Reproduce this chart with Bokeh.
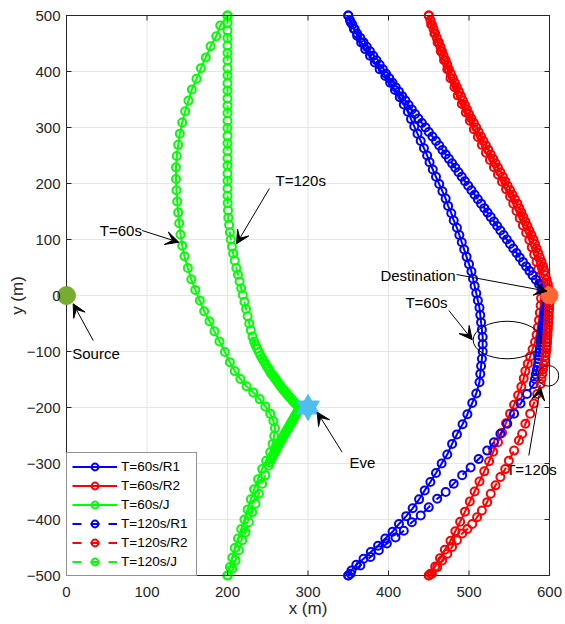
from bokeh.plotting import figure
from bokeh.models import (Range1d, FixedTicker, Legend, LegendItem,
                          Label, Arrow, VeeHead, ColumnDataSource)
from bokeh.embed import file_html
from bokeh.resources import INLINE

# ---------------- data ----------------
X_TICKS = [0, 100, 200, 300, 400, 500, 600]
Y_TICKS = [-500, -400, -300, -200, -100, 0, 100, 200, 300, 400, 500]

R1_60 = [(350,500),(353,488),(357,476),(361,464),(366,452),(371,440),(377,428),(383,416),(389,404),
         (396,392),(402,380),(408,367),(414,354),(419,341),(424,328),(428,315),(432,302),(436,289),
         (440,276),(444,263),(448,250),(451,238),(455,225),(459,212),(463,199),(467,186),(471,173),
         (474,160),(478,147),(481,134),(485,121),(488,108),(491,95),(494,82),(497,69),(500,56),
         (503,43),(505,30),(507,17),(509,4),(511,-9),(513,-22),(514,-35),(515,-48),(516,-61),
         (517,-74),(517,-87),(517,-100),(516,-113),(515,-126),(514,-140),(513,-155),(509,-175),
         (504,-192),(498,-212),(492,-230),(485,-248),(479,-265),(473,-284),(466,-300),(459,-317),
         (452,-333),(445,-348),(438,-364),(430,-380),(422,-394),(413,-408),(405,-422),(396,-434),
         (387,-447),(378,-458),(369,-470),(360,-481),(354,-491),(350,-500)]

R2_60 = [(450,500),(453,484),(457,468),(461,452),(465,436),(469,420),(473,404),(477,388),(482,372),
         (486,357),(491,342),(496,327),(501,312),(506,297),(511,283),(516,269),(521,255),(526,242),
         (531,229),(536,216),(541,203),(546,190),(551,177),(555,164),(559,151),(563,138),(567,125),
         (571,112),(575,99),(578,86),(581,73),(584,60),(586,47),(588,34),(589.5,21),(590,8),
         (589.5,-5),(589,-18),(588,-31),(587,-44),(585.5,-57),(584,-70),(582,-83),(579,-96),
         (576,-109),(573,-122),(570,-135),(568,-148),(565,-163),(561,-178),(556,-195),(551,-211),
         (546,-228),(541,-245),(536,-262),(530,-279),(525,-296),(519,-314),(513,-332),(507,-350),
         (501,-368),(495,-386),(489,-404),(483,-421),(477,-438),(470,-454),(464,-469),(458,-484),
         (452,-497),(450,-500)]

J_60 = [(200,500),(191,482),(186,463),(179,445),(173,425),(167,406),(161.5,387),(155.7,368),
        (151.5,348),(147.4,329),(143.7,309),(140.8,289),(138.7,269),(137,249),(136,229),(136,208),
        (136.6,188),(137.5,168),(138.7,148),(140,129),(141.6,109),(143.7,89),(146.6,70),(150.7,49),
        (155,29),(160,10),(165.6,-9),(171,-28),(177.6,-46),(183.8,-64),(190,-82),(196.7,-101),
        (202.9,-119),(209,-135),(216,-149),(223.6,-162),(232,-173),(240,-185),(247,-198),(253,-211),
        (257,-224),(259,-237),(258,-251),(256,-265),(253,-280),(248,-295),(243,-310),(238,-328),
        (233,-346),(229,-364),(225,-382),(221,-400),(217,-417),(213,-434),(209,-451),(206,-468),
        (203,-485),(200,-500)]

R1_120 = [(350,500),(352,492),(355,484),(358,476),(361,468),(365,460),(369,452),(373,444),(377,436),
          (381,428),(385,420),(389,412),(393,404),(397,396),(401,388),(405,380),(409,372),(413,364),
          (417,356),(421,348),(425,340),(429,332),(433,324),(437,316),(441.5,308),(446,300),(450,292),
          (454.5,284),(459,276),(463,268),(467,260),(471,252),(475,244),(479,236),(483,228),(487,220),
          (491,212),(495,204),(499,196),(503,188),(507,180),(511,172),(515,164),(519,156),(523,148),
          (527,140),(531,132),(535,124),(539,116),(543,108),(547,100),(551,92),(555,84),(559,76),
          (563,68),(567,60),(571,52),(575,44),(579,36),(583,28),(587,20),(591,12),(594,6),(596,2),
          (597,-3),(596.5,-8),(596,-13),(595.5,-18),(595,-23),(594.5,-28),(594,-33),(593.5,-38),
          (593,-43),(592.5,-48),(592,-53),(591.5,-58),(591,-63),(590.5,-68),(590,-73),(589.5,-78),
          (589,-84),(588.5,-90),(588,-96),(587.5,-102),(587,-108),(586.5,-114),(586,-120),(585,-127),
          (584,-134),(583,-141),(582,-149),(580.5,-158),(572,-176),(564,-193),(556,-211),(547.5,-229),
          (539,-247),(531,-262),(522.6,-277),(512,-292),(502,-307),(491.5,-321),(481,-336),(471,-351),
          (460.5,-363),(450,-378),(440,-393),(429,-405),(419,-420),(408.7,-432),(398,-443),(388,-455),
          (377.6,-467),(365,-482),(353,-497),(350,-500)]

R2_120 = [(450,500),(452,492),(454,484),(456,476),(458,468),(460,460),(462.5,452),(464.5,444),
          (466.5,436),(468.5,428),(471,420),(473,412),(475,404),(477.5,396),(480,388),(482.5,380),
          (485,372),(487.5,364),(490,356),(492.5,348),(495,340),(497.5,332),(500,324),(503,316),
          (506,308),(509,300),(512,292),(515,284),(518,276),(521,268),(524,260),(527,252),(530,244),
          (533,236),(536,228),(539,220),(542,212),(545,204),(548,196),(551,188),(554,180),(557,172),
          (560,164),(562.5,156),(565,148),(567.5,140),(570,132),(572.5,124),(575,116),(577.5,108),
          (580,100),(582,92),(584,84),(586,76),(588,68),(590,60),(592,52),(593.5,44),(595,36),
          (596.5,28),(598,20),(599,12),(599.5,6),(600,0),(600,-6),(600,-12),(599.5,-18),(599.5,-24),
          (599,-30),(599,-36),(598.5,-42),(598.5,-48),(598,-54),(598,-60),(597.5,-66),(597.5,-72),
          (597,-78),(597,-84),(596.5,-90),(596,-96),(595.5,-102),(595,-108),(594,-116),(593,-124),
          (592,-132),(591,-140),(590,-149),(589,-158),(584.7,-176),(580.5,-193),(576,-211),(570,-229),
          (566,-247),(562,-259),(556,-277),(549.5,-295),(545,-310),(539,-324),(533,-339),(527,-354),
          (522.6,-369),(516,-384),(510,-396),(504,-408),(498,-417),(491.5,-425),(485,-437),(479,-449),
          (473,-461),(466.7,-473),(460.5,-485),(454,-497),(450,-500)]

J_120 = [(200,500),(200,487),(200,473),(200,460),(200,446),(200,433),(200,420),(200,406),(200,393),
         (200,379),(200,366),(200,352),(200,339),(200,326),(200,312),(200,299),(200,285),(200,272),
         (200,258),(200,245),(200,232),(200,218),(200,205),(200,191),(200,178),(200.2,165),
         (200.6,152),(201,139),(202,126),(203,113),(204,100),(205.5,87),(207,75),(209,62),(211,49),
         (213,37),(215,25),(217,13),(219,1),(221,-11),(223,-24),(225,-37),(227,-50),(229,-62),
         (231,-73),(233,-82),(235,-89),(237,-95),(239,-101),(241,-107),(243,-112),(245,-117),
         (247,-122),(249,-127),(251,-131),(252.5,-135),(254,-139),(256,-142),(257.5,-145),(259,-148),
         (260.5,-151),(262,-154),(263.5,-157),(265,-160),(266.5,-163),(268,-166),(269.5,-168.5),
         (271,-171),(272.5,-173.5),(274,-176),(275.5,-178.5),(277,-181),(278.5,-183.5),(280,-186),
         (281.5,-188.5),(283,-191),(284.5,-193),(286,-195),(287.5,-197),(289,-199),(290,-200),
         (289,-202.5),(288,-205),(287,-207.5),(286,-210),(285,-212.5),(284,-215),(283,-217.5),
         (282,-220),(281,-222.5),(280,-225),(279,-227.5),(278,-230),(277,-232.5),(276,-235),
         (275,-237.5),(274,-240),(273,-242.5),(272,-245),(271,-247.5),(270,-250),(269,-252.5),
         (268,-255),(267,-257.5),(266,-260),(265,-262.5),(264,-265),(263,-268),(262,-271),
         (261,-274),(260,-277),(258.5,-281),(257,-285),(255.5,-289),(254,-293),(252.5,-298),
         (251,-304),(247,-321),(243,-336),(239,-354),(234.8,-372),(230.7,-387),(226.5,-405),
         (222.4,-423),(218.3,-437),(214,-455),(210,-473),(205.8,-488),(200,-500)]

SERIES_LABELS = ["T=60s/R1", "T=60s/R2", "T=60s/J", "T=120s/R1", "T=120s/R2", "T=120s/J"]
SERIES_DATA = [R1_60, R2_60, J_60, R1_120, R2_120, J_120]

SOURCE = (0, 0)
DESTINATION = (600, 0)
EVE = (300, -200)

# annotation geometry (data units)
ELLIPSE_X = [547.4, 598.5]
ELLIPSE_Y = [-79.5, -143.4]
ELLIPSE_W = [84.5, 26]
ELLIPSE_H = [67, 37]

NOTES = [("Source", 7.1, -102.7), ("T=60s", 41.4, 116), ("T=120s", 259.6, 205.4),
         ("Eve", 351.6, -299), ("Destination", 390, 35.2), ("T=60s", 421, -12.5),
         ("T=120s", 546.2, -310.4)]
ARROWS = [(33.2, -80.4, 8.3, -14.8), (94, 116, 139.5, 95.2), (252, 191, 211.2, 92.3),
          (342.4, -279.8, 311.4, -208.3), (484.5, 37.5, 597, 7.7), (475, -26.8, 504, -79),
          (574.3, -285.7, 588.8, -163.7)]

# ---------------- styles ----------------
COLORS = ["#0000FF", "#FF0000", "#00FF00", "#0000FF", "#FF0000", "#00FF00"]
DASHES = ["solid", "solid", "solid", "9 9", "9 9", "9 9"]
FONT = "Liberation Sans"
AX = "#262626"
GRID = "#e6e6e6"

PX_X = 0.805          # px per x unit
PX_Y = 0.56           # px per y unit
PADX = 10 / PX_X      # frame padding so edge markers are not cut
PADY = 7 / PX_Y
TICK_X = 5 / PX_X     # inward tick length
TICK_Y = 5 / PX_Y

xmin, xmax = X_TICKS[0], X_TICKS[-1]
ymin, ymax = Y_TICKS[0], Y_TICKS[-1]

p = figure(frame_width=503, frame_height=574,
           x_range=Range1d(xmin - PADX, xmax + PADX),
           y_range=Range1d(ymin - PADY, ymax + PADY),
           output_backend="svg", toolbar_location=None,
           min_border_left=56, min_border_right=6, min_border_top=8, min_border_bottom=42)
p.outline_line_color = None
p.grid.visible = False
p.background_fill_color = "white"
p.border_fill_color = "white"

for ax, ticks, lab, st, lst in ((p.xaxis[0], X_TICKS, "x (m)", 4, -1),
                                (p.yaxis[0], Y_TICKS, "y (m)", -4, -3)):
    ax.ticker = FixedTicker(ticks=ticks)
    ax.axis_line_color = None
    ax.major_tick_line_color = None
    ax.minor_tick_line_color = None
    ax.major_tick_in = 0
    ax.major_tick_out = 0
    ax.major_label_standoff = st
    ax.major_label_text_font = FONT
    ax.major_label_text_font_size = "15px"
    ax.major_label_text_color = AX
    ax.axis_label = lab
    ax.axis_label_standoff = lst
    ax.axis_label_text_font = FONT
    ax.axis_label_text_font_size = "17px"
    ax.axis_label_text_font_style = "normal"
    ax.axis_label_text_color = AX

nx, ny = len(X_TICKS), len(Y_TICKS)
# grid from tick arrays
p.segment(x0=X_TICKS, y0=[ymin] * nx, x1=X_TICKS, y1=[ymax] * nx, line_color=GRID, line_width=1)
p.segment(x0=[xmin] * ny, y0=Y_TICKS, x1=[xmax] * ny, y1=Y_TICKS, line_color=GRID, line_width=1)

items = []
for lab, pts, col, dash in zip(SERIES_LABELS, SERIES_DATA, COLORS, DASHES):
    src = ColumnDataSource(dict(x=[q[0] for q in pts], y=[q[1] for q in pts]))
    lr = p.line("x", "y", source=src, line_color=col, line_width=2, line_dash=dash)
    sr = p.scatter("x", "y", source=src, marker="circle", size=8, line_color=col,
                   line_width=2, fill_color=None)
    items.append(LegendItem(label=lab, renderers=[lr, sr]))

# axes box and inward ticks (MATLAB style box)
p.segment(x0=[xmin, xmin, xmin, xmax], y0=[ymin, ymax, ymin, ymin],
          x1=[xmax, xmax, xmin, xmax], y1=[ymin, ymax, ymax, ymax], line_color=AX, line_width=1)
p.segment(x0=X_TICKS, y0=[ymin] * nx, x1=X_TICKS, y1=[ymin + TICK_Y] * nx, line_color=AX, line_width=1)
p.segment(x0=X_TICKS, y0=[ymax] * nx, x1=X_TICKS, y1=[ymax - TICK_Y] * nx, line_color=AX, line_width=1)
p.segment(x0=[xmin] * ny, y0=Y_TICKS, x1=[xmin + TICK_X] * ny, y1=Y_TICKS, line_color=AX, line_width=1)
p.segment(x0=[xmax] * ny, y0=Y_TICKS, x1=[xmax - TICK_X] * ny, y1=Y_TICKS, line_color=AX, line_width=1)

# ellipses
p.ellipse(x=ELLIPSE_X, y=ELLIPSE_Y, width=ELLIPSE_W, height=ELLIPSE_H,
          fill_color=None, line_color="black", line_width=1)

# nodes
p.scatter(x=[SOURCE[0]], y=[SOURCE[1]], marker="circle", size=18,
          fill_color="#77AC30", line_color="#77AC30")
p.scatter(x=[DESTINATION[0]], y=[DESTINATION[1]], marker="circle", size=17,
          fill_color="#FF6633", line_color="#FF6633")
p.scatter(x=[EVE[0]], y=[EVE[1]], marker="triangle", size=22.5,
          fill_color="#4DBEEE", line_color="#4DBEEE")
p.scatter(x=[EVE[0]], y=[EVE[1]], marker="inverted_triangle", size=22.5,
          fill_color="#4DBEEE", line_color="#4DBEEE")

# arrows and notes
for xs, ys, xe, ye in ARROWS:
    p.add_layout(Arrow(x_start=xs, y_start=ys, x_end=xe, y_end=ye, line_color="black", line_width=1,
                       end=VeeHead(size=13, fill_color="black", line_color="black", line_width=1)))
for txt, tx, ty in NOTES:
    p.add_layout(Label(x=tx, y=ty, text=txt, text_align="left", text_baseline="middle",
                       text_font=FONT, text_font_size="15px", text_color="black"))

legend = Legend(items=items, location=(10, 6), margin=0, padding=5, spacing=2,
                glyph_width=45, glyph_height=17, label_height=17, label_width=70,
                label_standoff=4, border_line_color=AX, border_line_width=1,
                background_fill_color="white", background_fill_alpha=1,
                label_text_font=FONT, label_text_font_size="13.5px", label_text_color="black")
p.add_layout(legend)

open("out.html", "w").write(file_html(p, INLINE))
